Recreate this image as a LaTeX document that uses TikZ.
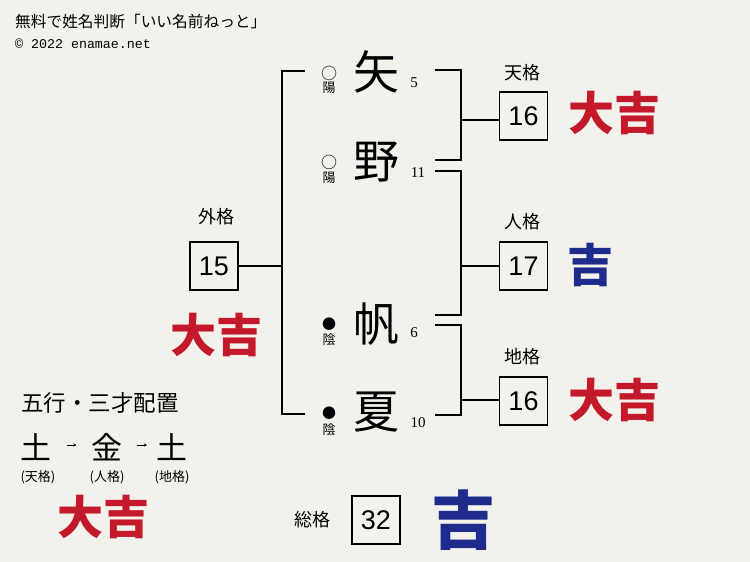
\documentclass[tikz,border=0pt]{standalone}
\usepackage{fontspec}
\setmainfont{Liberation Serif}
\newfontfamily\jp{Noto Sans CJK JP}
\newfontfamily\sansnum{Liberation Sans}
\newfontfamily\mono{Liberation Mono}
\usetikzlibrary{arrows.meta}
\definecolor{paper}{HTML}{F3F1EC}
\definecolor{luckred}{HTML}{C4182B}
\definecolor{luckblue}{HTML}{1E2A8C}
\begin{document}
\begin{tikzpicture}[x=1pt,y=-1pt,
  numbox/.style={draw,line width=1.6pt,minimum size=48pt,inner sep=0pt,font=\sansnum\fontsize{27}{27}\selectfont},
  lbl/.style={inner sep=0pt,font=\jp\fontsize{18}{18}\selectfont},
  namekanji/.style={inner sep=0pt,font=\jp\fontsize{46}{46}\selectfont},
  strokenum/.style={inner sep=0pt,font=\rmfamily\fontsize{15}{15}\selectfont},
  yinyang/.style={inner sep=0pt,font=\jp\fontsize{13}{13}\selectfont},
  mark/.style={inner sep=0pt,font=\jp\fontsize{15}{15}\selectfont},
  bigred/.style={inner sep=0pt,font=\jp\bfseries\fontsize{46}{46}\selectfont,text=luckred},
  bigblue/.style={inner sep=0pt,font=\jp\bfseries\fontsize{46}{46}\selectfont,text=luckblue},
  element/.style={inner sep=0pt,font=\jp\fontsize{31}{31}\selectfont},
  elabel/.style={inner sep=0pt,font=\jp\fontsize{13}{13}\selectfont},
  bracket/.style={line width=1.1pt}]
\fill[paper] (0,0) rectangle (750,562);
\useasboundingbox (0,0) rectangle (750,562);

% header
\node[anchor=west,inner sep=0pt,font=\jp\fontsize{15.7}{15.7}\selectfont] (title) at (15,22) {無料で姓名判断「いい名前ねっと」};
\node[anchor=west,inner sep=0pt,font=\mono\fontsize{13.3}{13.3}\selectfont] (copy) at (15,44) {© 2022 enamae.net};

% name characters
\node[namekanji] (k1) at (376,72) {矢};
\node[namekanji] (k2) at (376,162) {野};
\node[namekanji] (k3) at (376,324) {帆};
\node[namekanji] (k4) at (376,412) {夏};

\node[inner sep=0pt,font=\jp\fontsize{16}{16}\selectfont] (c1) at (329,73) {○};
\node[yinyang] (y1) at (329,88) {陽};
\node[inner sep=0pt,font=\jp\fontsize{16}{16}\selectfont] (c2) at (329,162) {○};
\node[yinyang] (y2) at (329,178) {陽};
\node[inner sep=0pt,font=\jp\fontsize{14}{14}\selectfont] (c3) at (329,324) {●};
\node[yinyang] (y3) at (329,340) {陰};
\node[inner sep=0pt,font=\jp\fontsize{14}{14}\selectfont] (c4) at (329,413) {●};
\node[yinyang] (y4) at (329,430) {陰};

\node[strokenum] (s1) at (414,83) {5};
\node[strokenum] (s2) at (418,173) {11};
\node[strokenum] (s3) at (414,333) {6};
\node[strokenum] (s4) at (418,423) {10};

% boxes
\node[numbox] (ten) at (523.5,116) {16};
\node[numbox] (jin) at (523.5,266) {17};
\node[numbox] (chi) at (523.5,401) {16};
\node[numbox] (gai) at (214,266) {15};
\node[numbox] (sou) at (376,520) {32};

\node[lbl] (tenl) at (522,73) {天格};
\node[lbl] (jinl) at (522,222) {人格};
\node[lbl] (chil) at (522,357) {地格};
\node[lbl] (gail) at (216,217) {外格};
\node[lbl] (soul) at (312,520) {総格};

% left bracket
\coordinate (lt) at (305,71);
\coordinate (lb) at (305,414);
\coordinate (lj) at (282,266);
\draw[bracket] (lt) -| (lj) |- (lb);
\draw[bracket] (gai.east) -- (lj);

% right brackets
\coordinate (r1t) at (435,70);
\coordinate (r1b) at (435,160);
\coordinate (r1j) at (461,120);
\draw[bracket] (r1t) -| (r1j) |- (r1b);
\draw[bracket] (r1j) -- (r1j -| ten.west);

\coordinate (r2t) at (435,171);
\coordinate (r2b) at (435,315);
\coordinate (r2j) at (461,266);
\draw[bracket] (r2t) -| (r2j) |- (r2b);
\draw[bracket] (r2j) -- (r2j -| jin.west);

\coordinate (r3t) at (435,325);
\coordinate (r3b) at (435,415);
\coordinate (r3j) at (461,400);
\draw[bracket] (r3t) -| (r3j) |- (r3b);
\draw[bracket] (r3j) -- (r3j -| chi.west);

% fortunes
\node[bigred] (f1) at (614,113) {大吉};
\node[bigblue] (f2) at (590,265) {吉};
\node[bigred] (f3) at (614,400) {大吉};
\node[bigred] (f4) at (216,335) {大吉};
\node[bigblue,font=\jp\bfseries\fontsize{64}{64}\selectfont] (f5) at (463,520) {吉};

% five elements
\node[anchor=west,inner sep=0pt,font=\jp\fontsize{22.5}{22.5}\selectfont] (gogyo) at (21,403) {五行・三才配置};
\node[element] (e1) at (36,447) {土};
\node[element] (e2) at (107,447) {金};
\node[element] (e3) at (172,447) {土};
\draw[line width=0.8pt,-{Stealth[length=3pt,width=3pt]},shorten <=30.5pt,shorten >=30.5pt] ([yshift=2pt]e1.center) -- ([yshift=2pt]e2.center);
\draw[line width=0.8pt,-{Stealth[length=3pt,width=3pt]},shorten <=30pt,shorten >=25pt] ([yshift=2pt]e2.center) -- ([yshift=2pt]e3.center);
\node[elabel] (el1) at (38,477) {(天格)};
\node[elabel] (el2) at (107,477) {(人格)};
\node[elabel] (el3) at (172,477) {(地格)};
\node[bigred] (f6) at (103,517) {大吉};
\end{tikzpicture}
\end{document}
